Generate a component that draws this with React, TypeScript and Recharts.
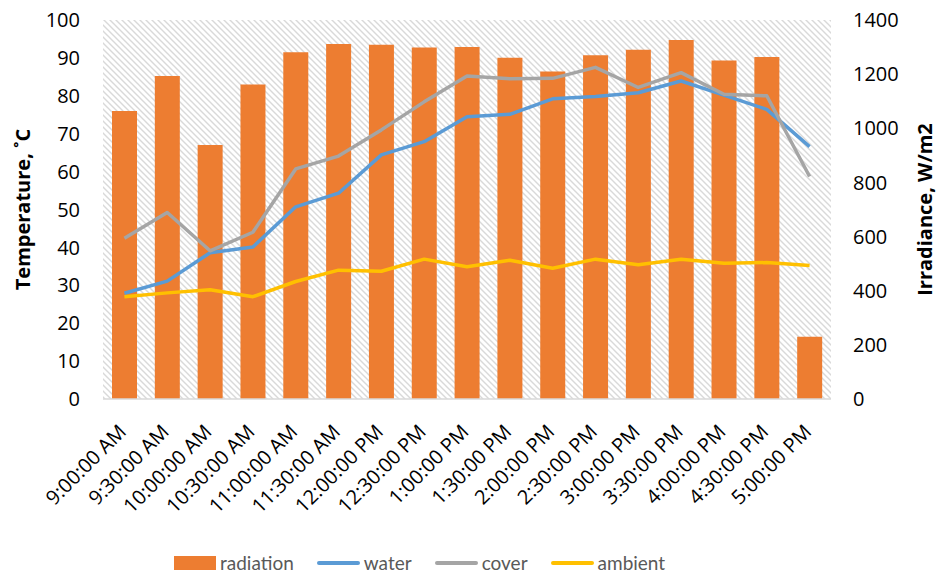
import React from 'react';
import {
  ComposedChart,
  Bar,
  Line,
  XAxis,
  YAxis,
  CartesianGrid,
  Legend,
} from 'recharts';

const times = [
  '9:00:00 AM', '9:30:00 AM', '10:00:00 AM', '10:30:00 AM', '11:00:00 AM',
  '11:30:00 AM', '12:00:00 PM', '12:30:00 PM', '1:00:00 PM', '1:30:00 PM',
  '2:00:00 PM', '2:30:00 PM', '3:00:00 PM', '3:30:00 PM', '4:00:00 PM',
  '4:30:00 PM', '5:00:00 PM',
];

// irradiance, W/m2
const radiation = [1064, 1193, 938, 1162, 1281, 1311, 1309, 1298, 1300, 1261, 1210, 1270, 1290, 1326, 1250, 1263, 230];

// temperatures, °C
const water = [27.9, 31.1, 38.6, 40.1, 50.7, 54.3, 64.4, 67.9, 74.5, 75.1, 79.2, 79.8, 80.8, 83.9, 80.2, 76.4, 66.6];
const cover = [42.4, 49.2, 39.1, 44.0, 60.7, 64.1, 71.0, 78.4, 85.2, 84.5, 84.6, 87.5, 82.2, 86.1, 80.4, 80.0, 58.7];
const ambient = [27.0, 28.0, 28.8, 27.0, 31.0, 34.0, 33.7, 36.9, 34.9, 36.6, 34.5, 36.9, 35.4, 36.9, 35.8, 36.0, 35.2];

const tempTicks = [0, 10, 20, 30, 40, 50, 60, 70, 80, 90, 100];
const irrTicks = [0, 200, 400, 600, 800, 1000, 1200, 1400];

const data = times.map((t, i) => ({
  time: t,
  radiation: radiation[i],
  water: water[i],
  cover: cover[i],
  ambient: ambient[i],
}));

const FONT = '"Open Sans", sans-serif';
const LEGEND_FONT = 'Lato, sans-serif';

const legendItems = [
  { name: 'radiation', color: '#ED7D31', kind: 'rect' },
  { name: 'water', color: '#5B9BD5', kind: 'line' },
  { name: 'cover', color: '#A5A5A5', kind: 'line' },
  { name: 'ambient', color: '#FFC000', kind: 'line' },
];

function LegendRow() {
  return (
    <div style={{ display: 'flex', alignItems: 'center', fontFamily: LEGEND_FONT, fontSize: 19, color: '#595959', paddingTop: 22, paddingLeft: 174 }}>
      {legendItems.map((it) => (
        <div key={it.name} style={{ display: 'flex', alignItems: 'center', marginRight: 23 }}>
          {it.kind === 'rect' ? (
            <span style={{ display: 'inline-block', width: 42, height: 14, background: it.color, marginRight: 4 }} />
          ) : (
            <span style={{ display: 'inline-block', width: 43, height: 4, borderRadius: 2, background: it.color, marginRight: 4 }} />
          )}
          <span>{it.name}</span>
        </div>
      ))}
    </div>
  );
}

export default function App() {
  return (
    <div style={{ position: 'absolute', left: 0, top: 0, width: 942, height: 578, background: '#fff' }}>
      <ComposedChart
        width={942}
        height={578}
        data={data}
        margin={{ top: 20, right: 0, bottom: 0, left: 0 }}
        barCategoryGap="41%"
      >
        <defs>
          <pattern id="hatch" width="6" height="6" patternUnits="userSpaceOnUse">
            <rect width="6" height="6" fill="#fff" />
            <path d="M-1,-1 L7,7 M-4,2 L1,7 M2,-4 L7,1" stroke="#d9d9d9" strokeWidth="1.4" />
          </pattern>
        </defs>
        <CartesianGrid horizontal={false} vertical={false} fill="url(#hatch)" fillOpacity={1} />
        <XAxis
          dataKey="time"
          height={130}
          interval={0}
          angle={-45}
          textAnchor="end"
          tickLine={false}
          axisLine={{ stroke: '#d9d9d9', strokeWidth: 1.5 }}
          tick={{ fontSize: 20, fill: '#000', fontFamily: FONT, dx: -7, dy: 10 }}
          tickMargin={8}
        />
        <YAxis
          yAxisId="temp"
          width={103}
          domain={[0, 100]}
          ticks={tempTicks}
          interval={0}
          axisLine={false}
          tickLine={false}
          tickSize={0}
          tickMargin={23}
          tick={{ fontSize: 20, fill: '#000', fontFamily: FONT }}
          label={{
            value: 'Temperature, ˚C',
            angle: -90,
            position: 'insideLeft',
            offset: 23,
            style: { textAnchor: 'middle', fontSize: 20, fontWeight: 'bold', fill: '#000', fontFamily: FONT },
          }}
        />
        <YAxis
          yAxisId="irr"
          orientation="right"
          width={111}
          domain={[0, 1400]}
          ticks={irrTicks}
          interval={0}
          axisLine={false}
          tickLine={false}
          tickSize={0}
          tickMargin={22}
          tick={{ fontSize: 20, fill: '#000', fontFamily: FONT, textAnchor: 'start' }}
          label={{
            value: 'Irradiance, W/m2',
            angle: -90,
            position: 'insideRight',
            offset: 17,
            style: { textAnchor: 'middle', fontSize: 20, fontWeight: 'bold', fill: '#000', fontFamily: FONT },
          }}
        />
        <Legend verticalAlign="bottom" height={49} content={() => <LegendRow />} />
        <Bar yAxisId="irr" dataKey="radiation" fill="#ED7D31" barSize={25} isAnimationActive={false} />
        <Line yAxisId="temp" dataKey="water" stroke="#5B9BD5" strokeWidth={3.5} dot={false} strokeLinejoin="round" isAnimationActive={false} />
        <Line yAxisId="temp" dataKey="cover" stroke="#A5A5A5" strokeWidth={3.5} dot={false} strokeLinejoin="round" isAnimationActive={false} />
        <Line yAxisId="temp" dataKey="ambient" stroke="#FFC000" strokeWidth={3.5} dot={false} strokeLinejoin="round" isAnimationActive={false} />
      </ComposedChart>
    </div>
  );
}
